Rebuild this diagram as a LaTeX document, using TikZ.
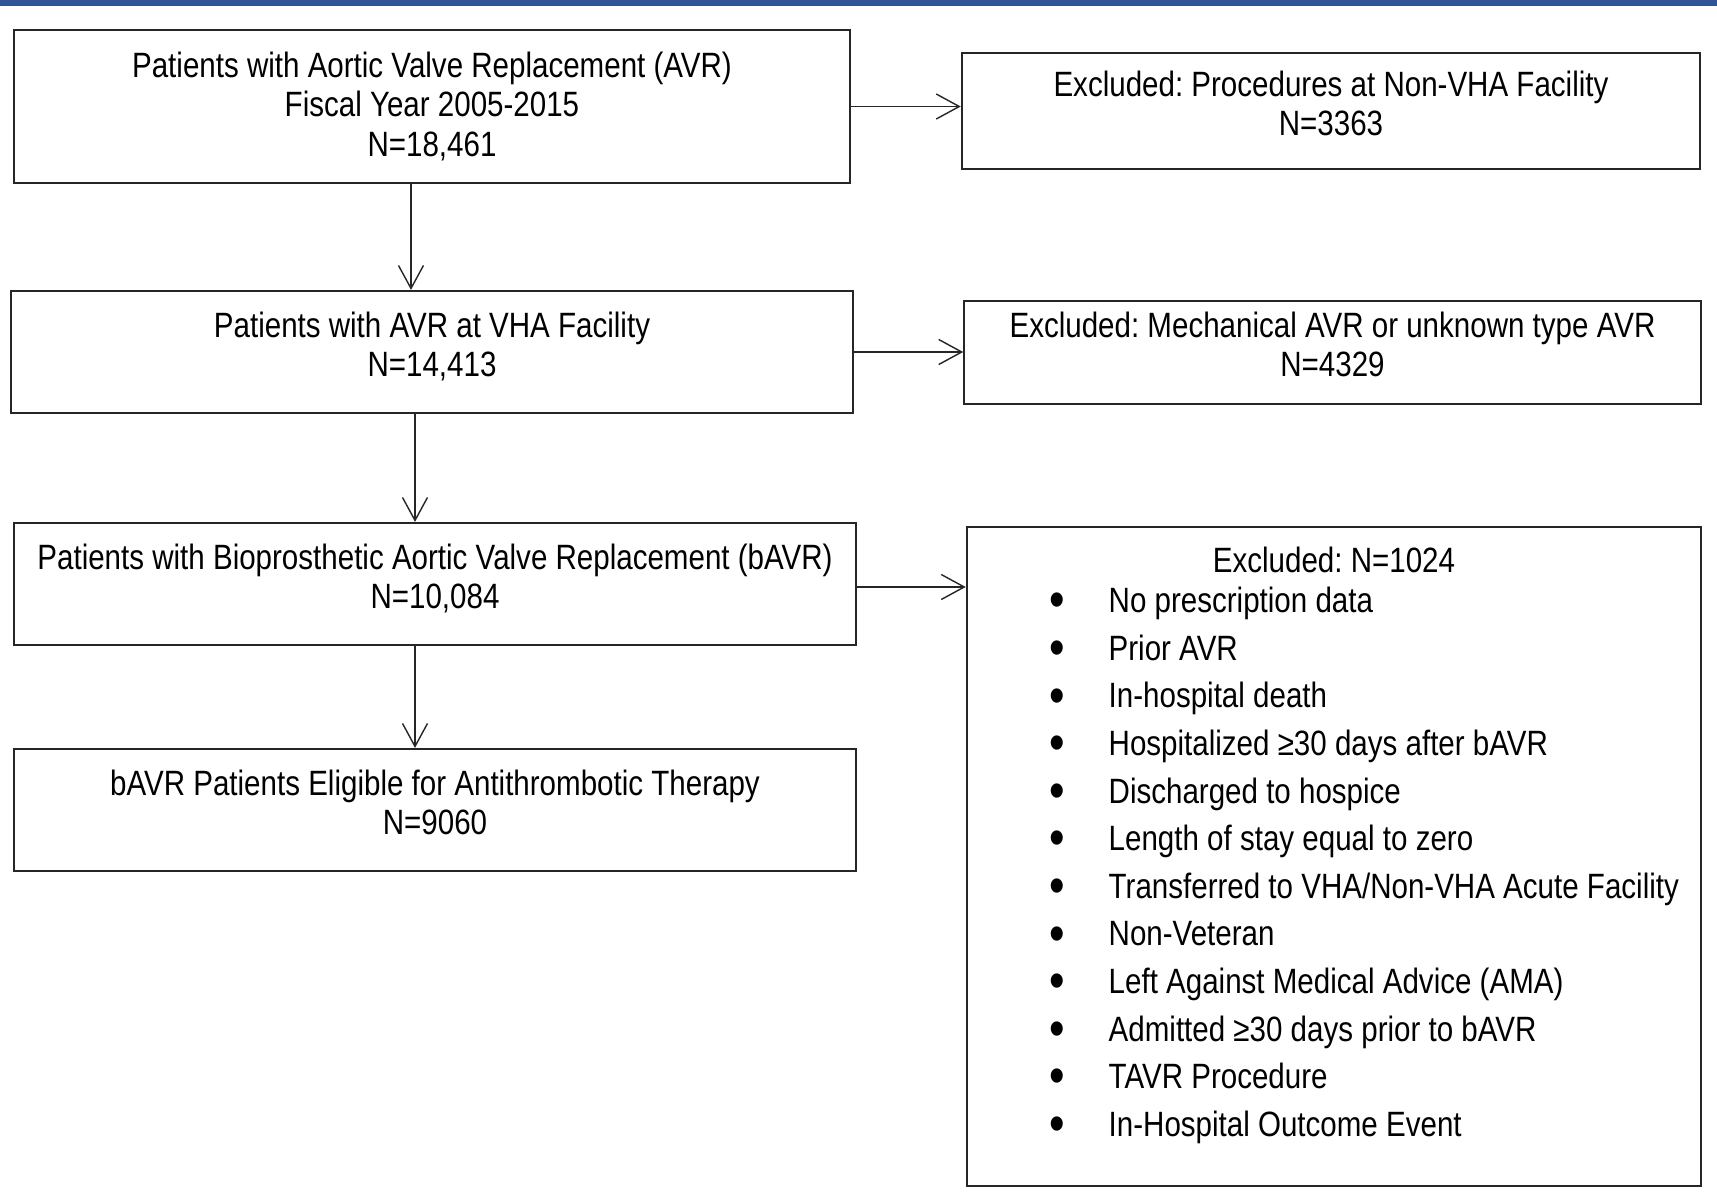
\documentclass[tikz,border=0pt]{standalone}
\usepackage{fontspec}
\setmainfont{Liberation Sans}[FakeStretch=0.84]
\frenchspacing
\usetikzlibrary{arrows.meta,positioning}

\definecolor{barblue}{HTML}{2F5597}

\begin{document}
\begin{tikzpicture}[
  x=0.01cm, y=-0.01cm,
  font=\fontsize{10pt}{11.1pt}\selectfont,
  mainbox/.style={draw=black!85, line width=0.6pt, align=center, minimum width=8.42cm, minimum height=1.22cm, inner sep=0pt},
  exbox/.style={draw=black!85, line width=0.6pt, align=center, minimum width=7.36cm, minimum height=1.06cm, inner sep=0pt},
  twoline/.style={text depth=4.5pt},
  arrow/.style={-{Straight Barb[length=0.23cm, width=0.25cm]}, line width=0.4pt, black!85},
  dotmark/.style={inner sep=0pt, font=\fontsize{15pt}{15pt}\selectfont},
  listitem/.style={inner sep=0pt, anchor=base west}
]
\useasboundingbox (0,0) rectangle (1717,1200);
\fill[barblue] (0,0) rectangle (1717,6);

% main flow
\node[mainbox, minimum width=8.36cm, minimum height=1.53cm] (total) at (432,106.5) {Patients with Aortic Valve Replacement (AVR)\\Fiscal Year 2005-2015\\N=18,461};
\node[mainbox, twoline] (vha) at (432,352) {Patients with AVR at VHA Facility\\N=14,413};
\node[mainbox, twoline] (bio) at (435,584) {Patients with Bioprosthetic Aortic Valve Replacement (bAVR)\\N=10,084};
\node[mainbox, twoline] (eligible) at (435,810) {bAVR Patients Eligible for Antithrombotic Therapy\\N=9060};

% exclusions
\node[exbox, twoline, minimum width=7.38cm, minimum height=1.16cm] (exnonvha) at (1331,111) {Excluded: Procedures at Non-VHA Facility\\N=3363};
\node[exbox, twoline, minimum height=1.03cm] (exmech) at (1332.5,352.5) {Excluded: Mechanical AVR or unknown type AVR\\N=4329};
\node[exbox, minimum width=7.34cm, minimum height=6.59cm] (exother) at (1334,856.5) {};
\node (exothertitle) at (1334,560) {Excluded: N=1024};

\foreach \txt [count=\i] in {No prescription data, Prior AVR, In-hospital death,
    Hospitalized ≥30 days after bAVR, Discharged to hospice, Length of stay equal to zero,
    Transferred to VHA/Non-VHA Acute Facility, Non-Veteran, Left Against Medical Advice (AMA),
    Admitted ≥30 days prior to bAVR, TAVR Procedure, In-Hospital Outcome Event} {
  \node[dotmark] (dot\i) at (1057,{558+47.6*\i}) {•};
  \node[listitem] (reason\i) at (1108,{565+47.6*\i}) {\txt};
}

\draw[arrow] ([xshift=-0.21cm]total.south) -- ([xshift=-0.21cm]total.south |- vha.north);
\draw[arrow] ([xshift=-0.17cm]vha.south) -- ([xshift=-0.17cm]vha.south |- bio.north);
\draw[arrow] ([xshift=-0.2cm]bio.south) -- ([xshift=-0.2cm]bio.south |- eligible.north);

\draw[arrow] (total.east) -- (total.east -| exnonvha.west);
\draw[arrow] (vha.east) -- (vha.east -| exmech.west);
\draw[arrow] ([yshift=-0.03cm]bio.east) -- ([yshift=-0.03cm]bio.east -| exother.west);
\end{tikzpicture}
\end{document}
